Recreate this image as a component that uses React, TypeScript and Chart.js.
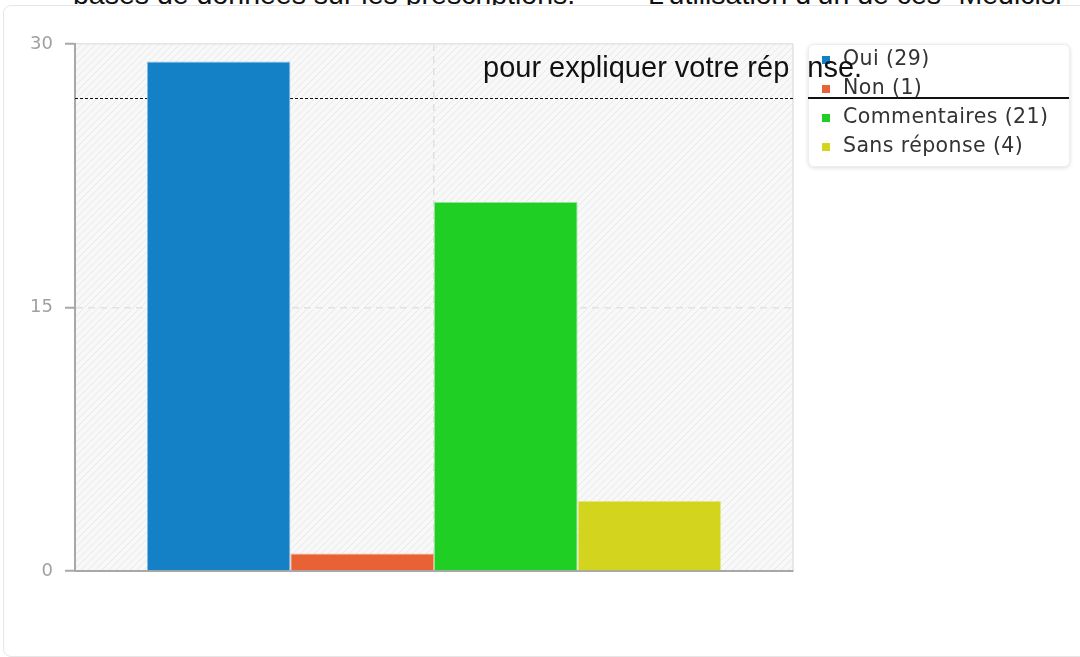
import React, { useEffect, useRef } from "react";
import { Chart, registerables } from "chart.js";
Chart.register(...registerables);

const categories = [""];
const seriesLabels = ["Oui", "Non", "Commentaires", "Sans réponse"];
const seriesValues = [29, 1, 21, 4];
const seriesColors = ["#1481c7", "#e96235", "#20cf23", "#d3d41d"];
const seriesBorders = ["#8cc3e8", "#f3a88f", "#8fe891", "#e8e98e"];
const yMin = 0;
const yMax = 30;
const yStep = 15;
const refLine = 26.9;
const titleBefore = "pour expliquer votre rép";
const titleHidden = "o";
const titleAfter = "nse.";
const topTextLeft = "bases de données sur les prescriptions.";
const topTextRight = "L’utilisation d’un de ces “Medicisl";

function makePattern(ctx: CanvasRenderingContext2D) {
  const c = document.createElement("canvas");
  c.width = 7;
  c.height = 7;
  const p = c.getContext("2d")!;
  p.fillStyle = "#f8f8f8";
  p.fillRect(0, 0, 7, 7);
  p.strokeStyle = "#e9e9e9";
  p.lineWidth = 1;
  p.beginPath();
  p.moveTo(-1, 8);
  p.lineTo(8, -1);
  p.stroke();
  return ctx.createPattern(c, "repeat")!;
}

const bgPlugin = {
  id: "bgPlugin",
  beforeDraw(chart: any) {
    const { ctx, chartArea: a } = chart;
    ctx.save();
    ctx.fillStyle = makePattern(ctx);
    ctx.fillRect(a.left, a.top, a.right - a.left, a.bottom - a.top);
    ctx.strokeStyle = "#e2e2e2";
    ctx.lineWidth = 1.5;
    ctx.beginPath();
    ctx.moveTo(a.right, a.top);
    ctx.lineTo(a.right, a.bottom);
    ctx.stroke();
    ctx.restore();
  },
  beforeDatasetsDraw(chart: any) {
    const { ctx, chartArea: a, scales } = chart;
    const y = Math.round(scales.y.getPixelForValue(refLine)) + 0.5;
    ctx.save();
    ctx.strokeStyle = "#111";
    ctx.lineWidth = 1;
    ctx.setLineDash([3, 2]);
    ctx.beginPath();
    ctx.moveTo(a.left, y);
    ctx.lineTo(a.right, y);
    ctx.stroke();
    ctx.restore();
  },
};

export default function App() {
  const ref = useRef<HTMLCanvasElement | null>(null);
  useEffect(() => {
    const chart = new Chart(ref.current!, {
      type: "bar",
      data: {
        labels: categories,
        datasets: seriesLabels.map((l, i) => ({
          label: l,
          data: [seriesValues[i]],
          backgroundColor: seriesColors[i],
          borderColor: seriesBorders[i],
          borderWidth: 1,
          categoryPercentage: 0.8,
          barPercentage: 1,
        })),
      },
      options: {
        animation: false,
        responsive: false,
        maintainAspectRatio: false,
        layout: { padding: { left: 20, top: 44, right: 287, bottom: 86 } },
        plugins: { legend: { display: false }, tooltip: { enabled: false } },
        scales: {
          x: {
            grid: { offset: false, color: "#e0e0e0", drawTicks: false, lineWidth: 1.5 },
            border: { display: true, color: "#a8a8a8", width: 2, dash: [7, 5] },
            ticks: { display: false },
            afterFit: (s: any) => {
              s.height = 0;
            },
          },
          y: {
            min: yMin,
            max: yMax,
            ticks: {
              stepSize: yStep,
              color: "#a0a0a0",
              padding: 12,
              font: { family: "DejaVu Sans", size: 18 },
            },
            grid: {
              color: (c: any) =>
                c.tick && c.tick.value === yMin ? "rgba(0,0,0,0)" : c.tick && c.tick.value === yMax ? "#e4e4e4" : "#e2e2e2",
              lineWidth: 1.5,
              tickColor: "#a8a8a8",
              tickLength: 10,
              tickWidth: 2,
            },
            border: {
              display: true,
              color: "#a8a8a8",
              width: 2,
              dash: (c: any) => (c.tick && c.tick.value !== yMax ? [7, 5] : []),
            },
            afterFit: (s: any) => {
              s.width = 55;
            },
          },
        },
      },
      plugins: [bgPlugin],
    } as any);
    return () => chart.destroy();
  }, []);

  const topFont = "28.5px 'Liberation Sans', Arial, sans-serif";
  return (
    <div style={{ position: "fixed", left: 0, top: 0, width: 1080, height: 657, overflow: "hidden", background: "#fff" }}>
      <div
        style={{ position: "absolute", top: -20.5, left: 73, font: topFont, lineHeight: "28px", color: "#111", whiteSpace: "nowrap" }}
      >
        {topTextLeft}
      </div>
      <div
        style={{ position: "absolute", top: -20.5, left: 648, font: topFont, lineHeight: "28px", color: "#111", whiteSpace: "nowrap" }}
      >
        {topTextRight}
      </div>
      <div
        style={{
          position: "absolute",
          left: 3,
          top: 5,
          width: 1100,
          height: 650,
          border: "1px solid #e6e6e6",
          borderRadius: 8,
          background: "#fff",
        }}
      />
      <canvas ref={ref} width={1080} height={657} style={{ position: "absolute", left: 0, top: 0 }} />
      <div
        style={{
          position: "absolute",
          left: 808,
          top: 44,
          width: 262,
          height: 123,
          boxSizing: "border-box",
          border: "1px solid #eeeeee",
          borderRadius: 6,
          background: "#fff",
          boxShadow: "0 1px 4px rgba(0,0,0,0.14)",
        }}
      >
        {seriesLabels.map((l, i) => (
          <div
            key={l}
            style={{
              position: "absolute",
              left: 0,
              top: -2 + i * 29,
              height: 29,
              display: "flex",
              alignItems: "center",
              whiteSpace: "nowrap",
              font: "20.5px 'DejaVu Sans', sans-serif",
              letterSpacing: "0.4px",
              color: "#333",
            }}
          >
            <span
              style={{
                display: "inline-block",
                width: 8,
                height: 8,
                background: seriesColors[i],
                marginLeft: 13,
                marginRight: 13,
                marginTop: 4,
              }}
            />
            {`${l} (${seriesValues[i]})`}
          </div>
        ))}
      </div>
      <div style={{ position: "absolute", left: 808, top: 97, width: 261, height: 1.5, background: "#111" }} />
      <div
        style={{
          position: "absolute",
          left: 483,
          top: 49,
          font: "29px 'Liberation Sans', Arial, sans-serif",
          lineHeight: "28px",
          color: "#111",
          whiteSpace: "nowrap",
        }}
      >
        {titleBefore}
        <span style={{ color: "transparent", display: "inline-block", width: 18, overflow: "hidden" }}>{titleHidden}</span>
        {titleAfter}
      </div>
    </div>
  );
}
